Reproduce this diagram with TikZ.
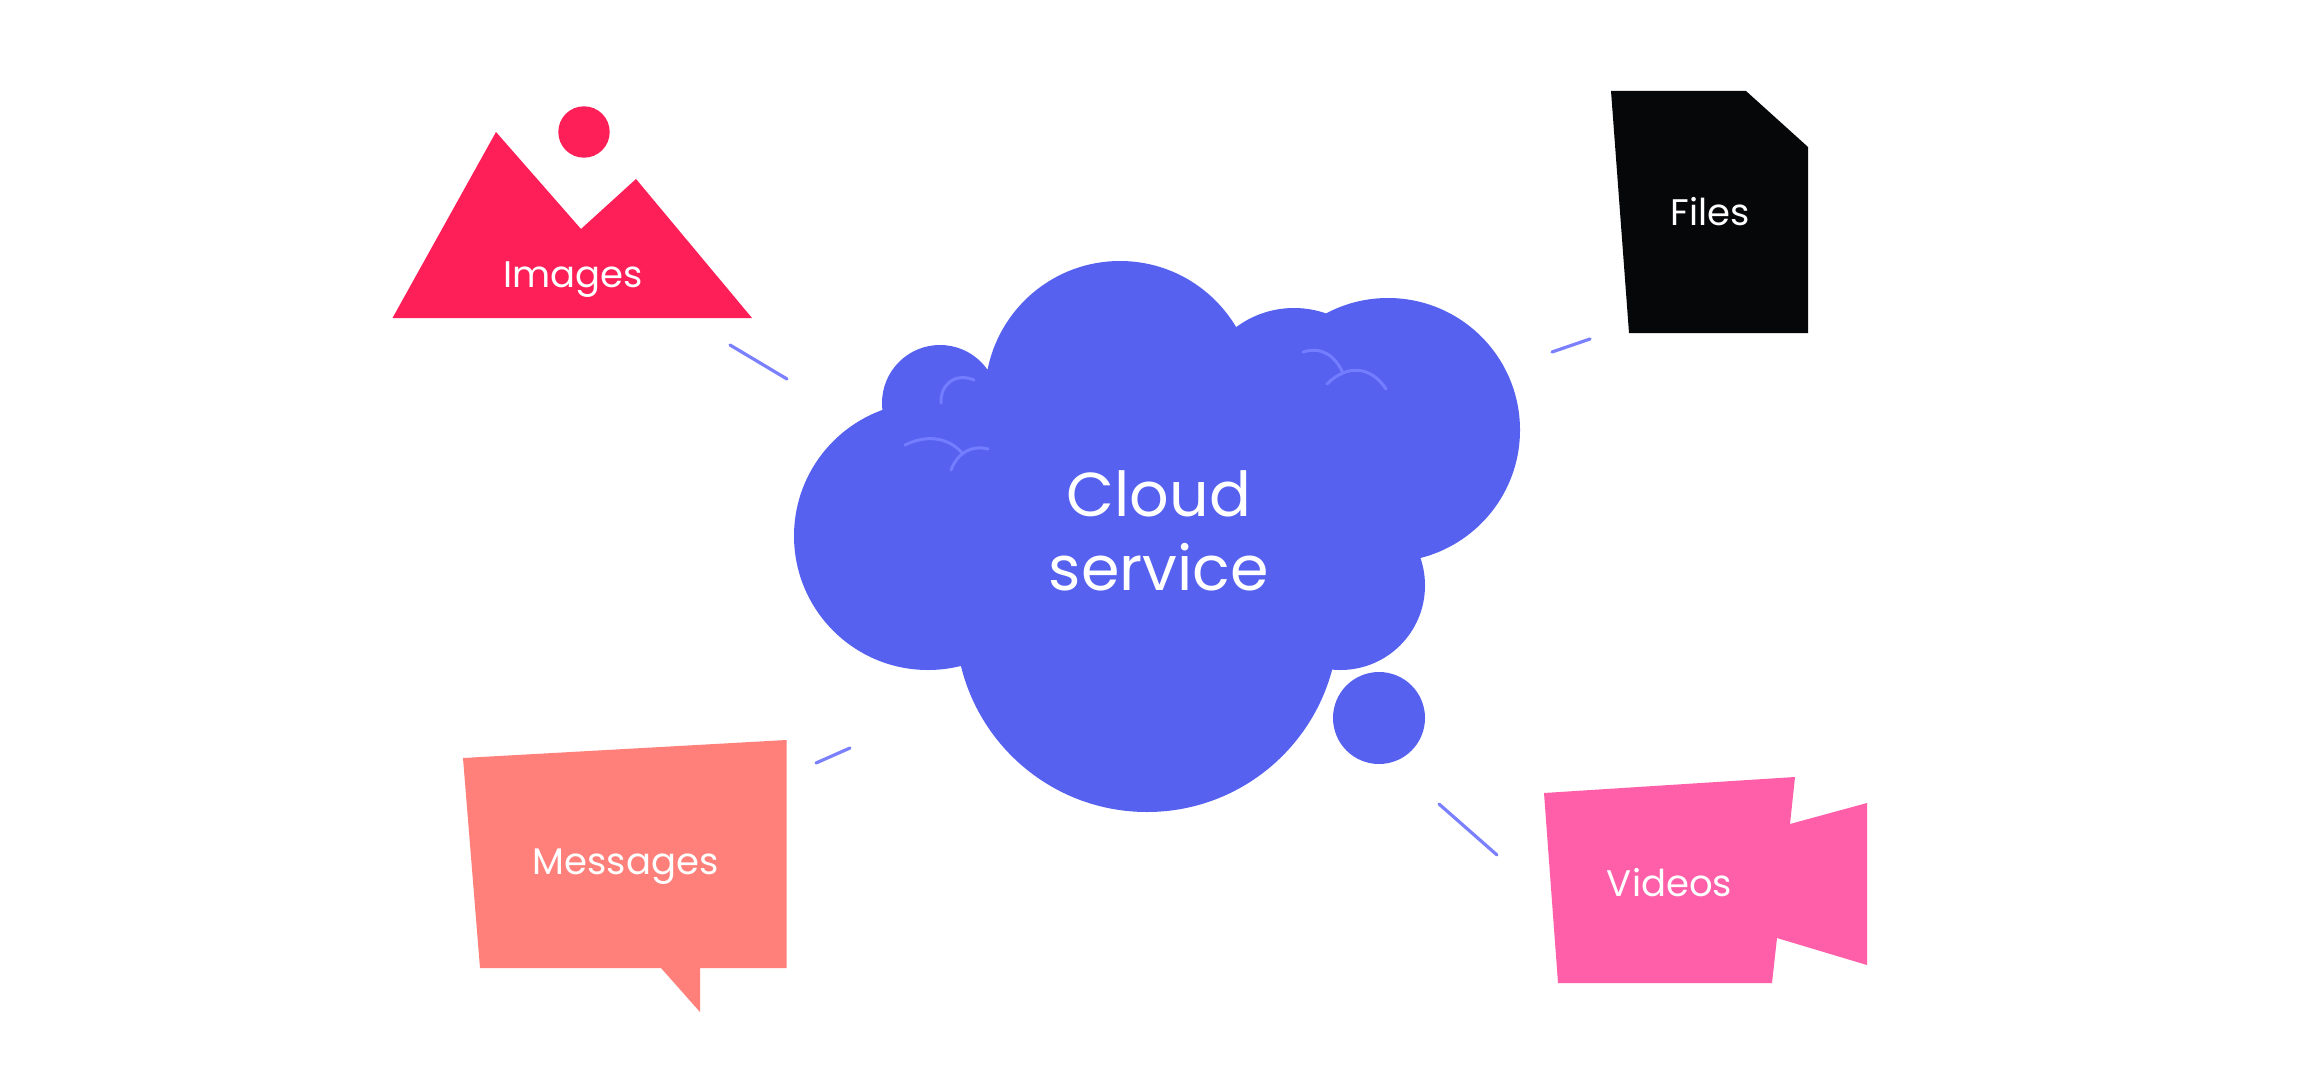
\documentclass[tikz,border=0pt]{standalone}
\usepackage{fontspec}
\setmainfont{Poppins}
\definecolor{cloudc}{HTML}{5661F0}
\definecolor{sketchc}{HTML}{737DFF}
\definecolor{dashc}{HTML}{7B80FF}
\definecolor{imgc}{HTML}{FF1F58}
\definecolor{filec}{HTML}{060709}
\definecolor{msgc}{HTML}{FF7F7A}
\definecolor{vidc}{HTML}{FF5FA8}
\tikzset{
  dashline/.style={draw=dashc,line width=3.2pt,line cap=round},
  sketch/.style={draw=sketchc,line width=3pt,line cap=round},
  label/.style={text=white,inner sep=0pt,anchor=base,font=\fontsize{37}{44}\selectfont},
  bigl/.style={text=white,inner sep=0pt,anchor=base,font=\fontsize{62}{74}\selectfont}
}
\begin{document}
\begin{tikzpicture}[x=1pt,y=-1pt]
\useasboundingbox (0,0) rectangle (2320,1070);
\fill[white] (0,0) rectangle (2320,1070);
% images
\fill[imgc] (496,132) -- (581,229) -- (636,179) -- (752,318) -- (392.5,318) -- cycle;
\fill[imgc] (584,132) circle[radius=25.7pt];
\node[label] (images) at (573,287) {Images};
% files
\fill[filec] (1611,91) -- (1746,91) -- (1808,147) -- (1808,333) -- (1629,333) -- cycle;
\node[label] (files) at (1710.5,225) {Files};
% messages
\fill[msgc] (463,758) -- (786.5,740) -- (786.5,968) -- (700,968) -- (700,1012) -- (661,968) -- (480,968) -- cycle;
\node[label] (messages) at (625.5,874) {Messages};
% videos
\fill[vidc] (1544,793) -- (1795,777) -- (1790,824) -- (1867,803) -- (1867,965) -- (1777,938) -- (1772,983) -- (1558,983) -- cycle;
\node[label] (videos) at (1669.5,896) {Videos};
% cloud
\fill[cloudc]
  (1120,396) circle[radius=135pt]
  (1388,430) circle[radius=132pt]
  (1294,405) circle[radius=97pt]
  (940,403) circle[radius=58pt]
  (928,536) circle[radius=134pt]
  (1147,620.5) circle[radius=191.5pt]
  (1340.5,585.5) circle[radius=84.5pt];
\fill[cloudc] (1120,396) -- (1294,405) -- (1388,430) -- (1340.5,585.5) -- (1147,620.5) -- (928,536) -- (940,403) -- cycle;
\fill[cloudc] (1379,718) circle[radius=46pt];
\node[bigl] (cloudA) at (1159,516) {Cloud};
\node[bigl] (cloudB) at (1159,590) {service};
% sketch strokes
\draw[sketch] (941,403) .. controls (940,385) and (955,372) .. (974,380);
\draw[sketch] (905,445) .. controls (925,435) and (948,436) .. (963,454);
\draw[sketch] (951,470) .. controls (958,452) and (972,445) .. (988,449);
\draw[sketch] (1303,352) .. controls (1322,346) and (1335,356) .. (1343,373);
\draw[sketch] (1327,384) .. controls (1347,364) and (1371,366) .. (1386,389);
% connectors
\coordinate (d1a) at (730,345); \coordinate (d1b) at (787,379);
\coordinate (d2a) at (1552,352); \coordinate (d2b) at (1590,339);
\coordinate (d3a) at (816,763); \coordinate (d3b) at (850,748);
\coordinate (d4a) at (1439,804); \coordinate (d4b) at (1497,855);
\draw[dashline] (d1a) -- (d1b);
\draw[dashline] (d2a) -- (d2b);
\draw[dashline] (d3a) -- (d3b);
\draw[dashline] (d4a) -- (d4b);
\end{tikzpicture}
\end{document}
